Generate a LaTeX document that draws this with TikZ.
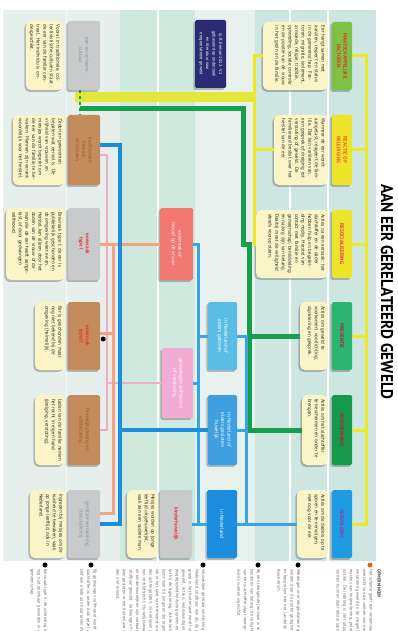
\documentclass[tikz,border=0pt]{standalone}
\usepackage{fontspec}
\setmainfont{PT Sans}
\usetikzlibrary{shadows,calc}
\definecolor{bgA}{HTML}{E6EFEC}
\definecolor{bgB}{HTML}{D0E9DE}
\definecolor{bgC}{HTML}{E8F1EE}
\definecolor{bgD}{HTML}{CDE6E1}
\definecolor{cream}{HTML}{FAF4C6}
\definecolor{gboxc}{HTML}{C9CACC}
\definecolor{bboxc}{HTML}{C38C5D}
\definecolor{lgreenc}{HTML}{7DC243}
\definecolor{yboxc}{HTML}{EEE52A}
\definecolor{mgreenc}{HTML}{2BB571}
\definecolor{dgreenc}{HTML}{16994C}
\definecolor{rbluec}{HTML}{1F9BE2}
\definecolor{salboxc}{HTML}{F27872}
\definecolor{pinkboxc}{HTML}{F2ABD3}
\definecolor{cblueA}{HTML}{5BBDE6}
\definecolor{cblueB}{HTML}{3E9FE1}
\definecolor{cblueC}{HTML}{1D8EDF}
\definecolor{navyc}{HTML}{2B2B73}
\definecolor{redtxt}{HTML}{E8312F}
\definecolor{orangetxt}{HTML}{EE5A2A}
\definecolor{pinkred}{HTML}{E8345A}
\definecolor{darkredtxt}{HTML}{B0243A}
\definecolor{purpletxt}{HTML}{8E3A9E}
\definecolor{graytxt}{HTML}{8C8C8E}
\definecolor{browntxt}{HTML}{8A5A30}
\definecolor{lineblue}{HTML}{1B8DDB}
\definecolor{linelb}{HTML}{36A4E7}
\definecolor{linesal}{HTML}{F4A27F}
\definecolor{linepink}{HTML}{F0ABCB}
\definecolor{linegreen}{HTML}{17A04B}
\definecolor{lineyel}{HTML}{EEE822}
\definecolor{bandyel}{HTML}{E4E63A}
\definecolor{notetxt}{HTML}{6E6E6E}
\definecolor{dotred}{HTML}{F05A28}
\tikzset{
  shd/.style={drop shadow={shadow xshift=-1.6pt,shadow yshift=-1.8pt,opacity=0.35,fill=black!70}},
  notebox/.style={shd,fill=cream,rounded corners=5pt,inner sep=0pt},
  labbox/.style={shd,rounded corners=1.5pt,inner sep=0pt},
  vtext/.style={rotate=-90,anchor=north west,inner sep=0pt,align=left,text=black!85,font=\fontsize{5}{6.6}\selectfont},
  ltext/.style={rotate=-90,inner sep=0pt,align=center,font=\fontsize{5.2}{6.4}\selectfont\bfseries},
  ntext/.style={rotate=-90,anchor=north west,inner sep=0pt,align=left,text=notetxt,text width=75pt,font=\fontsize{4.4}{6.6}\selectfont},
  cblue/.style={draw=lineblue,line width=4pt},
  clb/.style={draw=linelb,line width=3pt},
  csal/.style={draw=linesal,line width=3pt},
  cpink/.style={draw=linepink,line width=2.5pt},
  cgreen/.style={draw=linegreen,line width=5pt},
  cyel/.style={draw=lineyel,line width=3pt},
  yband/.style={draw=bandyel,line width=10pt},
  dotst/.style={circle,fill=black,inner sep=0pt,minimum size=5pt},
  titlest/.style={rotate=-90,inner sep=0pt,font=\fontsize{17}{17}\selectfont\bfseries}
}
\newcommand{\mkybox}[7]{\node[notebox,minimum width=#4pt,minimum height=#5pt] (#1) at (#2,#3) {};
  \node[vtext,text width=#6pt] (#1t) at ($(#1.north east)+(-3,4)$) {#7};}
\newcommand{\mklbox}[8]{\node[labbox,fill=#6,minimum width=#4pt,minimum height=#5pt] (#1) at (#2,#3) {};
  \node[ltext,text=#7] (#1t) at (#1.center) {#8};}
\begin{document}
\begin{tikzpicture}[x=1pt,y=-1pt]
\useasboundingbox (0,0) rectangle (398,631);
\fill[white] (0,0) rectangle (398,631);
% panels
\fill[bgA] (3,10) rectangle (120,561);
\fill[bgB] (120,10) rectangle (195,561);
\fill[bgC] (195,10) rectangle (255,561);
\fill[bgD] (255,10) rectangle (376,561);
\draw[white,line width=1.2pt] (158,10) -- (158,561);
\draw[white,line width=1.2pt] (290,10) -- (290,561);
\draw[white,line width=1.2pt] (328,10) -- (328,561);
\draw[white!60!bgA,line width=1pt] (66,10) -- (66,561);

% title
\node[titlest] (T) at (387,292) {\scalebox{0.9}[1]{AAN EER GERELATEERD GEWELD}};

% right label boxes
\mklbox{R1}{342}{56}{20}{68}{lgreenc}{redtxt}{MAATSCHAPPELIJKE\\FACTOREN}
\mklbox{R2}{342}{150}{20}{70}{yboxc}{orangetxt}{REACTIE OP\\BELEDIGING}
\mklbox{R3}{342}{244}{20}{68}{yboxc}{pinkred}{RESOCIALISERING}
\mklbox{R4}{342}{336}{20}{68}{mgreenc}{darkredtxt}{PREVENTIE}
\mklbox{R5}{342}{430}{20}{70}{dgreenc}{darkredtxt}{BESCHERMING}
\mklbox{R6}{342}{524}{20}{68}{rbluec}{purpletxt}{VERVOLGING}

% right yellow boxes
\mkybox{RY1}{295.5}{56}{65}{68}{60}{Eer hangt samen met aanzien, respect en status in de gemeenschap. Factoren: migratie, isolement, armoede, religie, traditie, opvoeding, sociale controle en de positie van de vrouw in het gezin en de familie.}
\mkybox{RY2}{301}{150}{54}{70}{62}{Wanneer de eer wordt aangetast, reageert de familie. Dat kan vari\"eren van een gesprek of dreiging tot verstoting of geweld. De familieraad beslist over het herstel van de eer.}
\mkybox{RY3}{292}{244}{72}{68}{60}{Acties na een eerzaak: het slachtoffer en de dader hebben hulp en begeleiding nodig. Herstel van contact met familie en gemeenschap, bemiddeling en nazorg zijn van belang. Daarbij moet de veiligheid steeds voorop staan.}
\mkybox{RY4}{314}{336}{28}{68}{60}{Acties om geweld te voorkomen: voorlichting, signalering en gesprek.}
\mkybox{RY5}{315}{430}{26}{70}{62}{Acties om het slachtoffer te beschermen en onder te brengen.}
\mkybox{RY6}{312.5}{524}{31}{68}{60}{Acties om de daders op te sporen en te vervolgen, met oog voor de eer.}

% left label boxes
\mklbox{A1}{84}{55.5}{32}{69}{gboxc}{graytxt}{\mdseries eer- en schaam-\\\mdseries cultuur}
\mklbox{A2}{84}{150}{32}{70}{bboxc}{browntxt}{\mdseries traditionele\\\mdseries familie-\\\mdseries structuren}
\mklbox{A3}{84}{244}{32}{72}{gboxc}{redtxt}{eerwraak\\type I}
\mklbox{A4}{84}{336}{32}{68}{bboxc}{redtxt}{eerwraak\\type II}
\mklbox{A5}{84}{430}{32}{70}{bboxc}{browntxt}{\mdseries huwelijksdwang en\\\mdseries achterlating}
\mklbox{A6}{84}{524}{32}{68}{gboxc}{graytxt}{\mdseries genitale verminking\\\mdseries (besnijdenis)}

% left yellow boxes
\mkybox{AY1}{44.5}{55.5}{37}{69}{61}{Vooral in traditionele, collectivistische culturen staat de eer van de familie centraal. Het individu is ondergeschikt.}
\mkybox{AY2}{39}{150}{52}{70}{62}{Zeden en gewoonten bepalen wat eervol is. De vrijheid van vrouwen en meisjes wordt beperkt om de eer van de familie te bewaken. Mannen zijn verantwoordelijk voor het herstel.}
\mkybox{AY3}{35.5}{244}{59}{72}{64}{Eerwraak type I: de eer is publiekelijk geschonden en de omgeving weet ervan. Herstel kan alleen door het doden van de vrouw of de man die de eer heeft aangetast, of door gedwongen zelfmoord.}
\mkybox{AY4}{50}{336}{30}{68}{60}{Eer is geschonden maar nog niet bekend bij de omgeving (heimelijk).}
\mkybox{AY5}{50}{430}{30}{70}{62}{Leden van de familie nemen het recht in eigen hand (dreiging, verstoting).}
\mkybox{AY6}{48}{524}{36}{68}{60}{Ingrepen bij meisjes om de kuisheid te bewaken, vaak op jonge leeftijd, ook in Nederland.}

% middle boxes
\mklbox{B1}{176.5}{244}{33}{72}{salboxc}{white}{\mdseries eerwraak of\\\mdseries moord op de vrouw}
\mklbox{B2}{177.5}{383}{31}{70}{pinkboxc}{white}{\mdseries gedwongen zelfmoord\\\mdseries of verstoting}
\mkybox{BY3}{142.5}{524}{31}{68}{60}{Meisjes worden op jonge leeftijd uitgehuwelijkt, vaak aan een oudere man.}
\mklbox{B3}{176}{524}{32}{68}{gboxc}{redtxt}{kinderhuwelijk}
\mklbox{C1}{222.5}{336}{29}{68}{cblueA}{white}{\mdseries in Nederland of\\\mdseries elders geboren}
\mklbox{C2}{222.5}{430}{29}{70}{cblueB}{white}{\mdseries in Nederland of\\\mdseries elders gesloten\\\mdseries huwelijk}
\mklbox{C3}{222}{524}{30}{68}{cblueC}{white}{\mdseries in Nederland}
\mklbox{NV}{210.5}{54}{31}{68}{navyc}{white}{\mdseries\fontsize{4.4}{6.4}\selectfont \textcopyright{} R. Eeman 2012. V.2\\\mdseries\fontsize{4.4}{6.4}\selectfont gebaseerd op onderzoek\\\mdseries\fontsize{4.4}{6.4}\selectfont en literatuur naar\\\mdseries\fontsize{4.4}{6.4}\selectfont eergerelateerd geweld}

% trunk coordinates
\coordinate (tb) at (120,0);
\coordinate (tp) at (107,0);
\coordinate (ts) at (113,0);
\coordinate (tl) at (198,0);
\coordinate (tr) at (246,0);
\coordinate (tg1) at (243,0);
\coordinate (tg2) at (249,0);
\coordinate (ty) at (254,0);
\coordinate (tR) at (366,0);
\coordinate (ys) at (75,97);
\coordinate (gs) at (80,109);

% yellow band and lines
\draw[yband] (ys) -- (ty |- ys);
\draw[cyel] (RY1.west) -| (ty |- RY3.west) -- (RY3.west);
\draw[cyel] (RY2.west) -- (ty |- RY2.west);
\draw[cyel] (R1.east) -| (tR |- R6.east) -- (R6.east);
\draw[cyel] (R2.east) -- (tR |- R2.east);
\draw[cyel] (R3.east) -- (tR |- R3.east);
\draw[cyel] (R4.east) -- (tR |- R4.east);
\draw[cyel] (R5.east) -- (tR |- R5.east);
% green
\draw[cgreen] (gs) -| (tg1 |- RY3.west) -- (tg2 |- RY3.west) |- (RY5.west);
\draw[cgreen] (tg2 |- RY4.west) -- (RY4.west);
\draw[linegreen,line width=2pt,dashed] ([xshift=-4pt]A1.south) -- ([xshift=-4pt]A2.north);
% pink
\draw[cpink] ([yshift=-5pt]A2.east) -| (tp |- A5.east) -- (A5.east);
\draw[cpink] (tp |- B2.west) -- (B2.west);
% salmon
\draw[csal] (A3.east) -- (B1.west);
\draw[csal] (ts |- A3.east) |- ([yshift=11pt]A6.east);
\draw[csal] ([yshift=3pt]A4.east) -| (ts |- A3.east);
% light blue
\draw[clb] (B1.east) -| (tl |- C3.west) -- (C3.west);
\draw[clb] (tl |- C1.west) -- (C1.west);
\draw[clb] (B2.east) -- (tl |- B2.east);
\draw[clb] (B3.east) -- (tl |- B3.east);
\draw[clb] (C1.east) -| (tr |- C3.east) -- (RY6.west);
\draw[clb] (C2.east) -- (tr |- C2.east);
\draw[clb] (C3.east) -- (tr |- C3.east);
% blue
\draw[cblue] ([yshift=5pt]A2.east) -| (tb |- A6.east) -- (A6.east);
\draw[cblue] (tb |- C2.west) -- (C2.west);

% dots
\node[dotst] (d0) at ([shift={(3,3)}]A4.east) {};
\node[dotst,fill=dotred] (d1) at (370,565) {};
\node[dotst] (d2) at (298,565) {};
\node[dotst] (d3) at (258,565) {};
\node[dotst] (d4) at (203,565) {};
\node[dotst] (d5) at (91,565) {};
\node[dotst] (d6) at (45,565) {};

% notes
\node[ntext] (n1h) at (381,569) {\bfseries\color{black!75}OPMERKINGEN};
\node[ntext] (n1) at (373,569) {Het schema geeft een vereenvoudigd overzicht van de vormen van eergerelateerd geweld en de mogelijke reacties van hulpverlening, politie en justitie. De indeling is niet uitputtend; vormen kunnen door elkaar lopen.};
\node[ntext] (n2) at (300.5,569) {Meldingen over eergerelateerd geweld worden door de politie geregistreerd en besproken met het Landelijk Expertisecentrum.};
\node[ntext] (n3) at (260.5,569) {Bij een (dreigende) eerzaak is snel handelen van belang; de veiligheid van het slachtoffer staat voorop en risico's worden ingeschat.};
\node[ntext] (n4) at (205.5,569) {Vrouwelijke genitale verminking is in Nederland strafbaar, ook als de ingreep in het buitenland wordt uitgevoerd. Artsen, verloskundigen en jeugdgezondheidszorg spelen een rol bij de signalering. Achterlating komt voor bij jongeren die tegen hun wil in het land van herkomst worden achtergelaten; zij verliezen soms hun verblijfsrecht. Huwelijksdwang en kinderhuwelijken zijn verboden en strafbaar gesteld. Gedwongen huwelijken gesloten in het buitenland worden niet erkend.};
\node[ntext] (n5) at (97,569) {Bij gedwongen zelfmoord wordt het slachtoffer zo onder druk gezet dat zij zelf een einde aan haar leven maakt.};
\node[ntext] (n6) at (47.5,569) {Eerwraak type II: de schending is nog niet openbaar geworden in de gemeenschap.};
\end{tikzpicture}
\end{document}
